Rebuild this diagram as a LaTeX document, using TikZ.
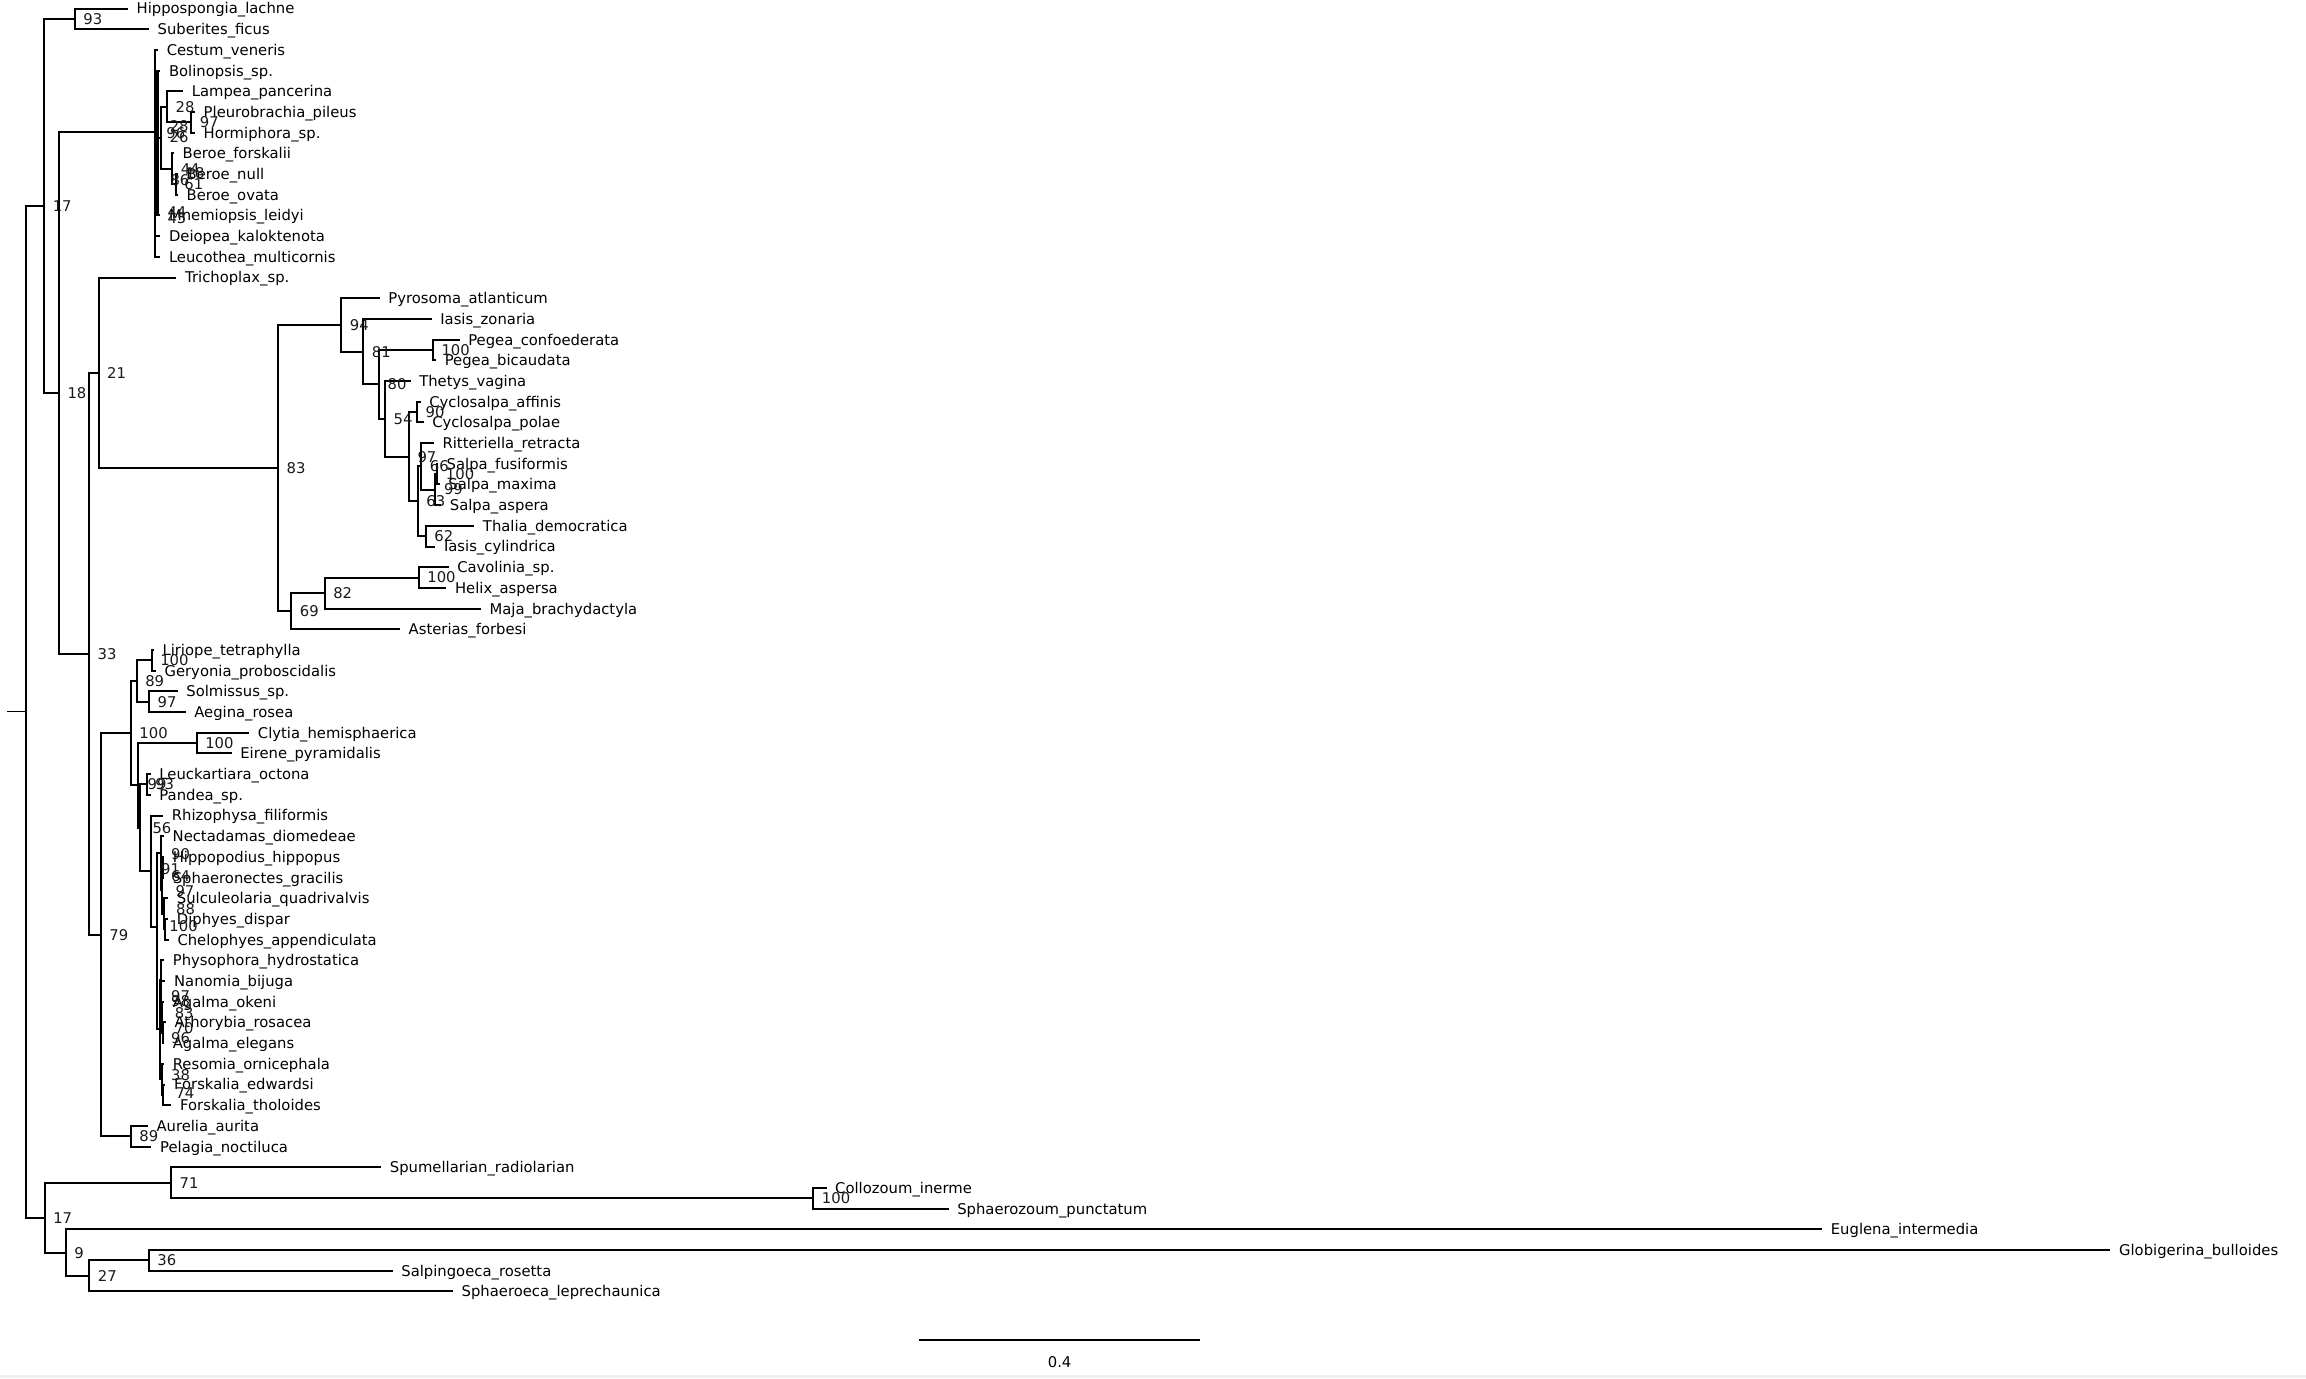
\documentclass[tikz,border=0pt]{standalone}
\usepackage{fontspec}
\setmainfont{DejaVu Sans}
\newcommand\lblfont{\fontsize{14.8pt}{16pt}\selectfont}
\begin{document}
\begin{tikzpicture}[x=1.4707pt,y=-1.4707pt,
  br/.style={line width=2pt,line join=miter},
  stub/.style={line width=1.1pt},
  leaf/.style={anchor=west,inner xsep=8.5pt,inner ysep=0pt,text height=10.8pt,text depth=0pt,font=\lblfont,text=black},
  nl/.style={anchor=west,inner xsep=8.5pt,inner ysep=0pt,text height=10.8pt,text depth=0pt,font=\lblfont,text=black!90},
  fl/.style={anchor=west,inner xsep=0pt,inner ysep=0pt,text height=10.8pt,text depth=0pt,font=\lblfont,text=black!90}]
\useasboundingbox (0,0) rectangle (1568,937);
\fill[gray!12] (0,935.2) rectangle (1568,937);
% ---------- coordinates ----------
\coordinate (R) at (18,484);
\coordinate (Rs) at (5,484);
\coordinate (A) at (30,140);
\coordinate (S) at (50.8,12.85);
\coordinate (eHipp) at (87,5.8);
\coordinate (eSub) at (101.3,19.87);
\coordinate (B) at (40,267.2);
\coordinate (C) at (105.5,89.8);
\coordinate (K1) at (106.5,97);
\coordinate (K2) at (107.5,93.5);
\coordinate (eCes) at (107.5,33.94);
\coordinate (eBol) at (109,48.01);
\coordinate (H) at (109.5,93.5);
\coordinate (LPn) at (113.5,72.5);
\coordinate (eLam) at (124.5,62.08);
\coordinate (PH) at (130,83.2);
\coordinate (ePle) at (132.6,76.15);
\coordinate (eHor) at (132.6,90.22);
\coordinate (BE) at (117,114.8);
\coordinate (eBfo) at (118.3,104.29);
\coordinate (NO) at (119.5,125.4);
\coordinate (eBnu) at (121,118.36);
\coordinate (eBov) at (121,132.43);
\coordinate (eMne) at (109,146.5);
\coordinate (eDei) at (109,160.57);
\coordinate (eLeu) at (109,174.64);
\coordinate (D) at (60.5,444.5);
\coordinate (E21) at (67,253.5);
\coordinate (eTri) at (120,188.71);
\coordinate (G83) at (189,318.25);
\coordinate (N94) at (232,220.9);
\coordinate (ePyr) at (258.2,202.78);
\coordinate (N81) at (247,239.1);
\coordinate (eIaz) at (293.5,216.85);
\coordinate (N80) at (257.7,261.4);
\coordinate (Peg) at (294.3,237.96);
\coordinate (ePec) at (312.5,230.92);
\coordinate (ePeb) at (296.5,244.99);
\coordinate (N54) at (261.8,284.8);
\coordinate (eThe) at (279.2,259.06);
\coordinate (N97) at (278,310.5);
\coordinate (Cyc) at (283.5,280.2);
\coordinate (eCya) at (286,273.13);
\coordinate (eCyp) at (288,287.2);
\coordinate (N63) at (284,340.85);
\coordinate (N66) at (286.4,317.1);
\coordinate (eRit) at (295,301.27);
\coordinate (N99) at (296,332.9);
\coordinate (FM) at (297.3,322.4);
\coordinate (eSfu) at (297.8,315.34);
\coordinate (eSma) at (299,329.41);
\coordinate (eSas) at (300,343.48);
\coordinate (N62) at (289.5,364.6);
\coordinate (eTha) at (322.5,357.55);
\coordinate (eIac) at (296,371.62);
\coordinate (N69) at (198,415.6);
\coordinate (N82) at (220.7,403.3);
\coordinate (CH) at (284.7,392.7);
\coordinate (eCav) at (305,385.69);
\coordinate (eHel) at (303.5,399.76);
\coordinate (eMaj) at (327,413.83);
\coordinate (eAst) at (272,427.9);
\coordinate (F79) at (68.5,635.5);
\coordinate (Q) at (88.9,498.4);
\coordinate (T) at (92.9,463.1);
\coordinate (LG) at (103.1,449.0);
\coordinate (eLir) at (104.6,441.97);
\coordinate (eGer) at (106,456.04);
\coordinate (SA) at (101.3,477.15);
\coordinate (eSol) at (120.8,470.11);
\coordinate (eAeg) at (126.2,484.18);
\coordinate (U) at (94.1,533.8);
\coordinate (CE) at (133.7,505.3);
\coordinate (eCly) at (169.5,498.25);
\coordinate (eEir) at (157.5,512.32);
\coordinate (W) at (95,562.9);
\coordinate (LP) at (99.7,533.4);
\coordinate (eLeuc) at (102.5,526.39);
\coordinate (ePan) at (102.5,540.46);
\coordinate (V) at (102.5,592.3);
\coordinate (eRhi) at (111,554.53);
\coordinate (X) at (106.5,630.1);
\coordinate (N1) at (109.2,580.3);
\coordinate (eNec) at (111.5,568.6);
\coordinate (C1) at (110,605.5);
\coordinate (HS) at (111,589.7);
\coordinate (eHip) at (111.6,582.67);
\coordinate (eSph) at (111.6,596.74);
\coordinate (SDC) at (111.4,621.4);
\coordinate (eSul) at (114.4,610.81);
\coordinate (DC) at (112.2,631.9);
\coordinate (eDip) at (114.4,624.88);
\coordinate (eChe) at (114.8,638.95);
\coordinate (P1) at (108.8,700);
\coordinate (PA) at (109.4,666.2);
\coordinate (ePhy) at (111.6,653.02);
\coordinate (NA) at (109.8,679.4);
\coordinate (eNan) at (112.5,667.09);
\coordinate (OA) at (110.2,691.7);
\coordinate (eAok) at (111.6,681.16);
\coordinate (AE) at (110.6,702.3);
\coordinate (eAth) at (112.8,695.23);
\coordinate (eAel) at (111.6,709.3);
\coordinate (RF) at (110,733.9);
\coordinate (eRes) at (111.6,723.37);
\coordinate (FF) at (110.6,744.5);
\coordinate (eFed) at (112.5,737.44);
\coordinate (eFth) at (116.6,751.51);
\coordinate (AP) at (88.9,772.6);
\coordinate (eAur) at (100.5,765.58);
\coordinate (ePel) at (103,779.65);
\coordinate (L) at (30.3,828);
\coordinate (N71) at (116.3,804.3);
\coordinate (eSpu) at (259.2,793.72);
\coordinate (CS) at (553,814.8);
\coordinate (eCol) at (562,807.79);
\coordinate (eSpz) at (645,821.86);
\coordinate (N9) at (44.6,851.8);
\coordinate (eEug) at (1239,835.93);
\coordinate (N27) at (60.7,867.6);
\coordinate (N36) at (101.1,857);
\coordinate (eGlo) at (1435,850);
\coordinate (eSal) at (267,864.07);
\coordinate (eSpr) at (308,878.14);
\coordinate (sbL) at (625,911);
\coordinate (sbR) at (816,911);
% ---------- branches ----------
\draw[stub] (Rs) -- (R);
\draw[br] (R) |- (A); \draw[br] (R) |- (L);
\draw[br] (A) |- (S); \draw[br] (A) |- (B);
\draw[br] (S) |- (eHipp); \draw[br] (S) |- (eSub);
\draw[br] (B) |- (C); \draw[br] (B) |- (D);
\draw[br] (C) |- (eCes); \draw[br] (C) |- (K1); \draw[br] (C) |- (eDei); \draw[br] (C) |- (eLeu);
\draw[br] (K1) |- (eBol); \draw[br] (K1) |- (K2); \draw[br] (K1) |- (eMne);
\draw[br] (K2) |- (eBol); \draw[br] (K2) |- (H); \draw[br] (K2) |- (eMne);
\draw[br] (H) |- (LPn); \draw[br] (H) |- (BE);
\draw[br] (LPn) |- (eLam); \draw[br] (LPn) |- (PH);
\draw[br] (PH) |- (ePle); \draw[br] (PH) |- (eHor);
\draw[br] (BE) |- (eBfo); \draw[br] (BE) |- (NO);
\draw[br] (NO) |- (eBnu); \draw[br] (NO) |- (eBov);
\draw[br] (D) |- (E21); \draw[br] (D) |- (F79);
\draw[br] (E21) |- (eTri); \draw[br] (E21) |- (G83);
\draw[br] (G83) |- (N94); \draw[br] (G83) |- (N69);
\draw[br] (N94) |- (ePyr); \draw[br] (N94) |- (N81);
\draw[br] (N81) |- (eIaz); \draw[br] (N81) |- (N80);
\draw[br] (N80) |- (Peg); \draw[br] (N80) |- (N54);
\draw[br] (Peg) |- (ePec); \draw[br] (Peg) |- (ePeb);
\draw[br] (N54) |- (eThe); \draw[br] (N54) |- (N97);
\draw[br] (N97) |- (Cyc); \draw[br] (N97) |- (N63);
\draw[br] (Cyc) |- (eCya); \draw[br] (Cyc) |- (eCyp);
\draw[br] (N63) |- (N66); \draw[br] (N63) |- (N62);
\draw[br] (N66) |- (eRit); \draw[br] (N66) |- (N99);
\draw[br] (N99) |- (FM); \draw[br] (N99) |- (eSas);
\draw[br] (FM) |- (eSfu); \draw[br] (FM) |- (eSma);
\draw[br] (N62) |- (eTha); \draw[br] (N62) |- (eIac);
\draw[br] (N69) |- (N82); \draw[br] (N69) |- (eAst);
\draw[br] (N82) |- (CH); \draw[br] (N82) |- (eMaj);
\draw[br] (CH) |- (eCav); \draw[br] (CH) |- (eHel);
\draw[br] (F79) |- (Q); \draw[br] (F79) |- (AP);
\draw[br] (Q) |- (T); \draw[br] (Q) |- (U);
\draw[br] (T) |- (LG); \draw[br] (T) |- (SA);
\draw[br] (LG) |- (eLir); \draw[br] (LG) |- (eGer);
\draw[br] (SA) |- (eSol); \draw[br] (SA) |- (eAeg);
\draw[br] (U) |- (CE); \draw[br] (U) |- (W);
\draw[br] (CE) |- (eCly); \draw[br] (CE) |- (eEir);
\draw[br] (W) |- (LP); \draw[br] (W) |- (V);
\draw[br] (LP) |- (eLeuc); \draw[br] (LP) |- (ePan);
\draw[br] (V) |- (eRhi); \draw[br] (V) |- (X);
\draw[br] (X) |- (N1); \draw[br] (X) |- (P1);
\draw[br] (N1) |- (eNec); \draw[br] (N1) |- (C1);
\draw[br] (C1) |- (HS); \draw[br] (C1) |- (SDC);
\draw[br] (HS) |- (eHip); \draw[br] (HS) |- (eSph);
\draw[br] (SDC) |- (eSul); \draw[br] (SDC) |- (DC);
\draw[br] (DC) |- (eDip); \draw[br] (DC) |- (eChe);
\draw[br] (P1) |- (PA); \draw[br] (P1) |- (RF);
\draw[br] (PA) |- (ePhy); \draw[br] (PA) |- (NA);
\draw[br] (NA) |- (eNan); \draw[br] (NA) |- (OA);
\draw[br] (OA) |- (eAok); \draw[br] (OA) |- (AE);
\draw[br] (AE) |- (eAth); \draw[br] (AE) |- (eAel);
\draw[br] (RF) |- (eRes); \draw[br] (RF) |- (FF);
\draw[br] (FF) |- (eFed); \draw[br] (FF) |- (eFth);
\draw[br] (AP) |- (eAur); \draw[br] (AP) |- (ePel);
\draw[br] (L) |- (N71); \draw[br] (L) |- (N9);
\draw[br] (N71) |- (eSpu); \draw[br] (N71) |- (CS);
\draw[br] (CS) |- (eCol); \draw[br] (CS) |- (eSpz);
\draw[br] (N9) |- (eEug); \draw[br] (N9) |- (N27);
\draw[br] (N27) |- (N36); \draw[br] (N27) |- (eSpr);
\draw[br] (N36) |- (eGlo); \draw[br] (N36) |- (eSal);
\draw[line width=1.6pt] (sbL) -- (sbR);
\node[font=\lblfont,text=black] (sblab) at (720.5,926) {0.4};
% ---------- leaf labels ----------
\node[leaf] (t01) at (eHipp) {Hippospongia\_lachne};
\node[leaf] (t02) at (eSub) {Suberites\_ficus};
\node[leaf] (t03) at (eCes) {Cestum\_veneris};
\node[leaf] (t04) at (eBol) {Bolinopsis\_sp.};
\node[leaf] (t05) at (eLam) {Lampea\_pancerina};
\node[leaf] (t06) at (ePle) {Pleurobrachia\_pileus};
\node[leaf] (t07) at (eHor) {Hormiphora\_sp.};
\node[leaf] (t08) at (eBfo) {Beroe\_forskalii};
\node[leaf] (t09) at (eBnu) {Beroe\_null};
\node[leaf] (t10) at (eBov) {Beroe\_ovata};
\node[leaf] (t11) at (eMne) {Mnemiopsis\_leidyi};
\node[leaf] (t12) at (eDei) {Deiopea\_kaloktenota};
\node[leaf] (t13) at (eLeu) {Leucothea\_multicornis};
\node[leaf] (t14) at (eTri) {Trichoplax\_sp.};
\node[leaf] (t15) at (ePyr) {Pyrosoma\_atlanticum};
\node[leaf] (t16) at (eIaz) {Iasis\_zonaria};
\node[leaf] (t17) at (ePec) {Pegea\_confoederata};
\node[leaf] (t18) at (ePeb) {Pegea\_bicaudata};
\node[leaf] (t19) at (eThe) {Thetys\_vagina};
\node[leaf] (t20) at (eCya) {Cyclosalpa\_affinis};
\node[leaf] (t21) at (eCyp) {Cyclosalpa\_polae};
\node[leaf] (t22) at (eRit) {Ritteriella\_retracta};
\node[leaf] (t23) at (eSfu) {Salpa\_fusiformis};
\node[leaf] (t24) at (eSma) {Salpa\_maxima};
\node[leaf] (t25) at (eSas) {Salpa\_aspera};
\node[leaf] (t26) at (eTha) {Thalia\_democratica};
\node[leaf] (t27) at (eIac) {Iasis\_cylindrica};
\node[leaf] (t28) at (eCav) {Cavolinia\_sp.};
\node[leaf] (t29) at (eHel) {Helix\_aspersa};
\node[leaf] (t30) at (eMaj) {Maja\_brachydactyla};
\node[leaf] (t31) at (eAst) {Asterias\_forbesi};
\node[leaf] (t32) at (eLir) {Liriope\_tetraphylla};
\node[leaf] (t33) at (eGer) {Geryonia\_proboscidalis};
\node[leaf] (t34) at (eSol) {Solmissus\_sp.};
\node[leaf] (t35) at (eAeg) {Aegina\_rosea};
\node[leaf] (t36) at (eCly) {Clytia\_hemisphaerica};
\node[leaf] (t37) at (eEir) {Eirene\_pyramidalis};
\node[leaf] (t38) at (eLeuc) {Leuckartiara\_octona};
\node[leaf] (t39) at (ePan) {Pandea\_sp.};
\node[leaf] (t40) at (eRhi) {Rhizophysa\_filiformis};
\node[leaf] (t41) at (eNec) {Nectadamas\_diomedeae};
\node[leaf] (t42) at (eHip) {Hippopodius\_hippopus};
\node[leaf] (t43) at (eSph) {Sphaeronectes\_gracilis};
\node[leaf] (t44) at (eSul) {Sulculeolaria\_quadrivalvis};
\node[leaf] (t45) at (eDip) {Diphyes\_dispar};
\node[leaf] (t46) at (eChe) {Chelophyes\_appendiculata};
\node[leaf] (t47) at (ePhy) {Physophora\_hydrostatica};
\node[leaf] (t48) at (eNan) {Nanomia\_bijuga};
\node[leaf] (t49) at (eAok) {Agalma\_okeni};
\node[leaf] (t50) at (eAth) {Athorybia\_rosacea};
\node[leaf] (t51) at (eAel) {Agalma\_elegans};
\node[leaf] (t52) at (eRes) {Resomia\_ornicephala};
\node[leaf] (t53) at (eFed) {Forskalia\_edwardsi};
\node[leaf] (t54) at (eFth) {Forskalia\_tholoides};
\node[leaf] (t55) at (eAur) {Aurelia\_aurita};
\node[leaf] (t56) at (ePel) {Pelagia\_noctiluca};
\node[leaf] (t57) at (eSpu) {Spumellarian\_radiolarian};
\node[leaf] (t58) at (eCol) {Collozoum\_inerme};
\node[leaf] (t59) at (eSpz) {Sphaerozoum\_punctatum};
\node[leaf] (t60) at (eEug) {Euglena\_intermedia};
\node[leaf] (t61) at (eGlo) {Globigerina\_bulloides};
\node[leaf] (t62) at (eSal) {Salpingoeca\_rosetta};
\node[leaf] (t63) at (eSpr) {Sphaeroeca\_leprechaunica};
% ---------- support values ----------
\node[nl] (bA) at (A) {17};
\node[nl] (bS) at (S) {93};
\node[nl] (bB) at (B) {18};
\node[nl] (bD) at (D) {33};
\node[nl] (bE21) at (E21) {21};
\node[nl] (bG83) at (G83) {83};
\node[nl] (bN94) at (N94) {94};
\node[nl] (bN81) at (N81) {81};
\node[nl] (bN80) at (N80) {80};
\node[nl] (bPeg) at (Peg) {100};
\node[nl] (bN54) at (N54) {54};
\node[nl] (bN97) at (N97) {97};
\node[nl] (bCyc) at (Cyc) {90};
\node[nl] (bN63) at (N63) {63};
\node[nl] (bN66) at (N66) {66};
\node[nl] (bFM) at (FM) {100};
\node[nl] (bN99) at (N99) {99};
\node[nl] (bN62) at (N62) {62};
\node[nl] (bN69) at (N69) {69};
\node[nl] (bN82) at (N82) {82};
\node[nl] (bCH) at (CH) {100};
\node[nl] (bF79) at (F79) {79};
\node[nl] (bQ) at (Q) {100};
\node[nl] (bT) at (T) {89};
\node[nl] (bLG) at (LG) {100};
\node[nl] (bSA) at (SA) {97};
\node[nl] (bCE) at (CE) {100};
\node[nl] (bLP) at (LP) {93};
\node[nl] (bAP) at (AP) {89};
\node[nl] (bL) at (L) {17};
\node[nl] (bN71) at (N71) {71};
\node[nl] (bCS) at (CS) {100};
\node[nl] (bN9) at (N9) {9};
\node[nl] (bN27) at (N27) {27};
\node[nl] (bN36) at (N36) {36};
\node[nl] (bLPn) at (LPn) {28};
\node[nl] (bPH) at (PH) {97};
\node[nl] (bH) at (H) {26};
\node[nl] (bBE) at (BE) {44};
\node[nl] (bNO) at (NO) {61};
% free-standing (overlapping) values
\node[fl] (f1) at (115.3,85.5) {28};
\node[fl] (f2) at (113,90.8) {96};
\node[fl] (f3) at (126.1,117.6) {18};
\node[fl] (f4) at (115.8,122.4) {86};
\node[fl] (f5) at (113.8,144.2) {44};
\node[fl] (f6) at (113.8,148.5) {45};
\node[fl] (f7) at (100.3,533) {99};
\node[fl] (f8) at (103.6,563.2) {56};
\node[fl] (f9) at (116.2,581) {90};
\node[fl] (f10) at (109.4,591) {91};
\node[fl] (f11) at (116.2,596) {64};
\node[fl] (f12) at (119.2,606) {97};
\node[fl] (f13) at (119.7,618) {88};
\node[fl] (f14) at (115.1,630) {100};
\node[fl] (f15) at (116.2,677.5) {97};
\node[fl] (f16) at (116.2,681) {98};
\node[fl] (f17) at (118.7,689) {83};
\node[fl] (f18) at (118.7,699) {70};
\node[fl] (f19) at (116.2,706) {96};
\node[fl] (f20) at (116.2,731) {38};
\node[fl] (f21) at (119.2,743) {74};
\end{tikzpicture}
\end{document}
